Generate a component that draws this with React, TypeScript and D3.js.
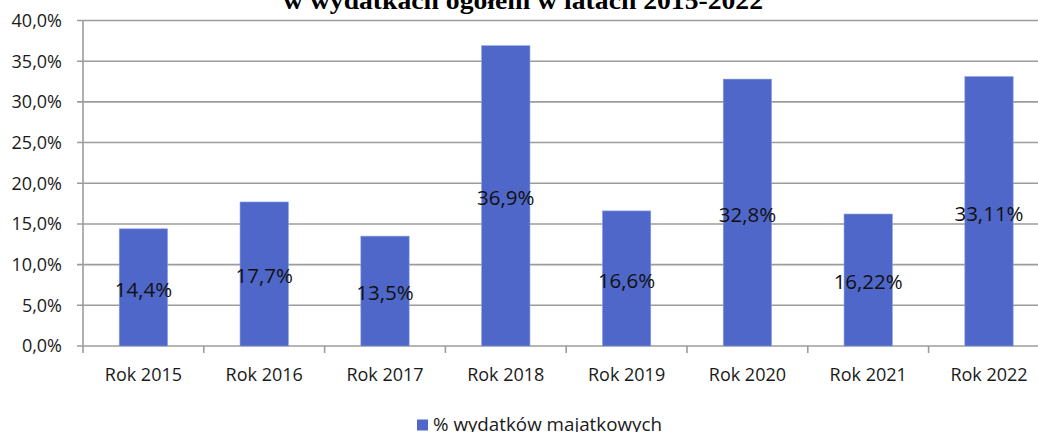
import React from "react";
import * as d3 from "d3";

const categories = ["Rok 2015", "Rok 2016", "Rok 2017", "Rok 2018", "Rok 2019", "Rok 2020", "Rok 2021", "Rok 2022"];
const values = [14.4, 17.7, 13.5, 36.9, 16.6, 32.8, 16.22, 33.11];
const valueLabels = ["14,4%", "17,7%", "13,5%", "36,9%", "16,6%", "32,8%", "16,22%", "33,11%"];
const yTicks = [0, 5, 10, 15, 20, 25, 30, 35, 40];
const title = "w wydatkach ogółem w latach 2015-2022";
const seriesName = "% wydatków majatkowych";

const W = 1038;
const H = 432;
const left = 83;
const top = 20.5;
const bottom = 346;
const bandW = 120.8;
const right = left + bandW * categories.length;
const BAR = "#4f67c8";
const GRID = "#9c9c9c";
const FONT = "'Open Sans', sans-serif";

const fmt = (v: number) => v.toFixed(1).replace(".", ",") + "%";

export default function App() {
  const x = d3.scaleBand<string>().domain(categories).range([left, right]).padding(0);
  const y = d3.scaleLinear().domain([0, 40]).range([bottom, top]);
  const bw = x.bandwidth() * 0.4;

  return (
    <svg width={W} height={H} style={{ position: "absolute", left: 0, top: 0, background: "#fff" }}>
      <text
        x={523}
        y={9}
        textAnchor="middle"
        fontFamily="'Liberation Serif', 'Times New Roman', serif"
        fontWeight="bold"
        fontSize={26}
        textLength={480}
        lengthAdjust="spacingAndGlyphs"
        fill="#000"
      >
        {title}
      </text>

      {yTicks.map((t) => (
        <g key={t}>
          <line x1={left - 6} x2={right} y1={y(t)} y2={y(t)} stroke={GRID} strokeWidth={1.6} />
          <text
            x={62}
            y={y(t)}
            dy="0.36em"
            textAnchor="end"
            fontFamily={FONT}
            fontSize={18}
            fill="#1a1a1a"
          >
            {fmt(t)}
          </text>
        </g>
      ))}

      <line x1={left} x2={left} y1={top} y2={bottom + 7} stroke={GRID} strokeWidth={1.6} />
      {categories.map((c, i) => (
        <line
          key={"tk" + i}
          x1={(x(c) as number) + bandW}
          x2={(x(c) as number) + bandW}
          y1={bottom}
          y2={bottom + 7}
          stroke={GRID}
          strokeWidth={1.6}
        />
      ))}

      {categories.map((c, i) => {
        const cx = (x(c) as number) + x.bandwidth() / 2;
        const yTop = y(values[i]);
        return (
          <g key={c}>
            <rect x={cx - bw / 2} y={yTop} width={bw} height={bottom - yTop} fill={BAR} stroke="#8d9de0" strokeWidth={0.6} />
            <text
              x={cx}
              y={(yTop + bottom) / 2 + 2}
              dy="0.36em"
              textAnchor="middle"
              fontFamily={FONT}
              fontSize={20.5}
              fill="#111"
            >
              {valueLabels[i]}
            </text>
            <text x={cx} y={381} textAnchor="middle" fontFamily={FONT} fontSize={18} fill="#1a1a1a">
              {c}
            </text>
          </g>
        );
      })}

      <rect x={417} y={419.5} width={11} height={11} fill={BAR} />
      <text x={433} y={431} fontFamily={FONT} fontSize={18.8} fill="#1a1a1a">
        {seriesName}
      </text>
    </svg>
  );
}
